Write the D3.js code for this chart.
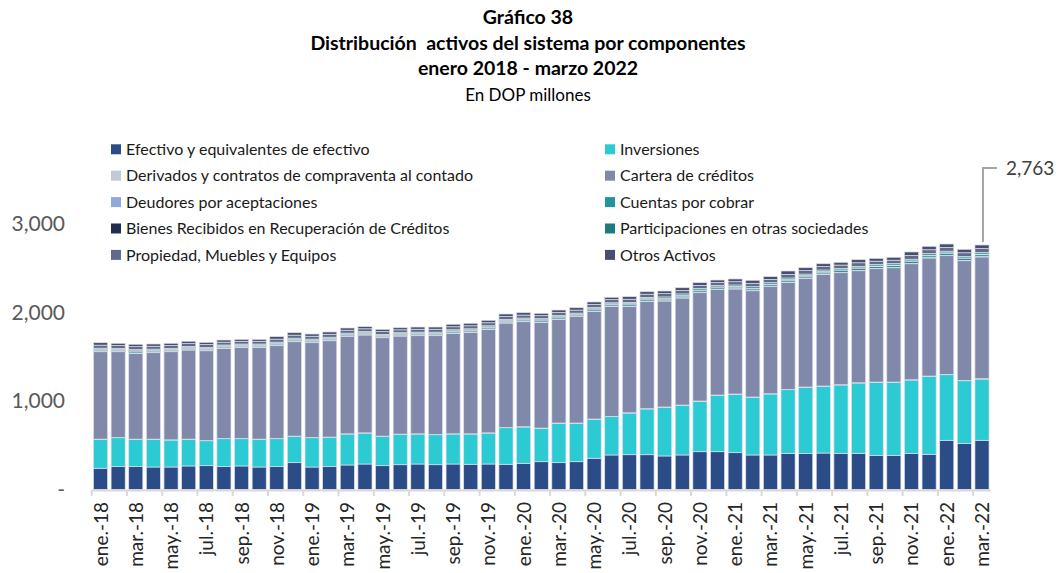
<!DOCTYPE html>
<html>
<head>
<meta charset="utf-8">
<script src="https://cdn.jsdelivr.net/npm/d3@7"></script>
<style>
  html, body { margin: 0; padding: 0; background: #ffffff; }
  svg { display: block; }
  text { font-family: Lato, "Open Sans", sans-serif; white-space: pre; }
</style>
</head>
<body>
<svg id="chart" width="1057" height="573"></svg>
<script>
// ---------- DATA ----------
const months = [
  "ene.-18","feb.-18","mar.-18","abr.-18","may.-18","jun.-18","jul.-18","ago.-18","sep.-18","oct.-18","nov.-18","dic.-18",
  "ene.-19","feb.-19","mar.-19","abr.-19","may.-19","jun.-19","jul.-19","ago.-19","sep.-19","oct.-19","nov.-19","dic.-19",
  "ene.-20","feb.-20","mar.-20","abr.-20","may.-20","jun.-20","jul.-20","ago.-20","sep.-20","oct.-20","nov.-20","dic.-20",
  "ene.-21","feb.-21","mar.-21","abr.-21","may.-21","jun.-21","jul.-21","ago.-21","sep.-21","oct.-21","nov.-21","dic.-21",
  "ene.-22","feb.-22","mar.-22"
];

const efectivo = [240,258,258,254,254,266,269,258,266,254,258,303,254,258,277,288,269,280,288,280,288,285,288,285,
  296,314,303,314,353,390,393,393,379,390,427,427,416,390,390,409,405,412,409,409,386,386,405,398,556,518,556];
const inversiones = [327,327,309,313,305,301,282,316,308,313,316,298,331,332,350,350,332,344,339,339,339,342,350,413,
  410,377,445,434,440,433,471,517,550,561,570,637,660,652,689,719,750,754,772,794,825,825,832,881,741,711,692];
const derivados = [2,2,2,2,2,2,2,2,2,2,2,2,2,2,2,2,2,2,2,2,2,2,2,2,3,3,3,3,3,3,3,3,3,3,3,3,3,3,3,3,3,3,3,3,3,3,3,3,4,4,4];
const cartera = [988,970,970,977,996,1007,1015,1019,1031,1038,1049,1067,1072,1089,1098,1106,1112,1108,1109,1117,1136,1147,1170,1181,
  1187,1195,1172,1202,1218,1244,1203,1214,1198,1210,1224,1195,1187,1201,1210,1210,1228,1263,1266,1266,1281,1292,1311,1334,1341,1352,1376];
const deudores = [4,4,4,4,4,4,4,4,4,4,4,4,4,4,4,4,4,4,4,4,4,4,4,4,4,4,4,3,3,3,3,3,3,3,3,3,3,3,3,3,4,4,4,4,4,4,4,4,4,4,4];
const cuentas = [14,13,15,14,13,14,13,13,12,12,14,14,14,14,14,13,13,13,14,14,14,14,14,14,15,15,16,15,16,15,17,17,18,18,18,16,18,18,18,20,19,19,19,20,19,19,21,21,21,20,21];
const bienes = [10,10,10,10,10,10,10,10,10,10,10,10,10,10,10,10,10,10,10,10,10,10,10,10,10,10,10,10,10,10,10,10,10,10,10,9,9,9,9,9,9,9,9,9,8,8,8,8,8,8,8];
const participaciones = [12,11,12,12,11,12,11,11,11,11,12,12,12,12,12,11,11,11,12,12,12,12,12,12,12,12,13,12,13,12,14,14,15,15,15,14,15,16,15,17,16,16,16,17,16,16,18,18,18,17,18];
const propiedad = [34,32,34,33,32,33,32,32,31,31,34,34,33,33,33,32,32,32,33,33,34,34,34,34,34,34,35,34,35,35,36,36,37,38,37,35,37,38,37,41,39,39,38,40,38,38,42,42,42,41,43];
const otros = [28,25,27,25,25,26,25,24,22,22,28,28,25,26,25,24,25,24,25,25,28,28,28,28,27,27,27,27,28,27,29,28,30,32,30,28,31,34,31,38,33,32,31,35,32,33,40,39,39,39,41];

const seriesNames = [
  "Efectivo y equivalentes de efectivo","Inversiones",
  "Derivados y contratos de compraventa al contado","Cartera de créditos",
  "Deudores por aceptaciones","Cuentas por cobrar",
  "Bienes Recibidos en Recuperación de Créditos","Participaciones en otras sociedades",
  "Propiedad, Muebles y Equipos","Otros Activos"
];
const seriesValues = [efectivo, inversiones, derivados, cartera, deudores, cuentas, bienes, participaciones, propiedad, otros];
const colors = ["#2b4c87","#2ccbd4","#c3c7d6","#8189aa","#8fa9d8","#21959b","#1f2d4f","#1e7a7c","#606a8e","#484f6e"];

const yTicks = [0, 1000, 2000, 3000];
const yTickLabels = ["-", "1,000", "2,000", "3,000"];
const titleLines = ["Gráfico 38", "Distribución  activos del sistema por componentes", "enero 2018 - marzo 2022"];
const subtitle = "En DOP millones";
const annotationLabel = "2,763";

// ---------- BUILD ----------
const table = months.map((m, i) => {
  const row = { month: m };
  seriesNames.forEach((s, k) => row[s] = seriesValues[k][i]);
  return row;
});

const svg = d3.select("#chart");

const x = d3.scaleBand().domain(months).range([91.7, 990.8]).paddingInner(0.2).paddingOuter(0.1);
const y = d3.scaleLinear().domain([0, 3000]).range([489.5, 224]);

const stacked = d3.stack().keys(seriesNames)(table);

// bars
const layers = svg.append("g").selectAll("g").data(stacked).join("g")
  .attr("fill", (d, i) => colors[i]);
layers.selectAll("rect").data(d => d).join("rect")
  .attr("x", d => x(d.data.month))
  .attr("width", x.bandwidth())
  .attr("y", d => y(d[1]))
  .attr("height", d => Math.max(0, y(d[0]) - y(d[1])))
  .attr("stroke", "#dde0e8")
  .attr("stroke-width", 0.7);

// x axis line
const step = x.step();
const gap = (step - x.bandwidth()) / 2;
svg.append("line")
  .attr("x1", x.range()[0]).attr("x2", x.range()[1])
  .attr("y1", 490.5).attr("y2", 490.5)
  .attr("stroke", "#d9d9d9").attr("stroke-width", 2);

// ticks at boundaries every two months
const tickMonths = months.filter((m, i) => i % 2 === 0);
svg.append("g").selectAll("line").data(tickMonths).join("line")
  .attr("x1", m => x(m) - gap).attr("x2", m => x(m) - gap)
  .attr("y1", 490).attr("y2", 496)
  .attr("stroke", "#d9d9d9").attr("stroke-width", 2);

// x labels
svg.append("g").selectAll("text").data(tickMonths).join("text")
  .attr("transform", m => `translate(${x(m) + x.bandwidth() / 2 + 7},502) rotate(-90)`)
  .attr("text-anchor", "end")
  .attr("font-size", 19)
  .attr("fill", "#262626")
  .text(m => m);

// y labels
svg.append("g").selectAll("text").data(yTicks).join("text")
  .attr("x", 65)
  .attr("y", v => y(v))
  .attr("dy", "0.35em")
  .attr("text-anchor", "end")
  .attr("font-size", 21)
  .attr("fill", "#595959")
  .text((v, i) => yTickLabels[i]);

// title
const tg = svg.append("g");
titleLines.forEach((t, i) => {
  tg.append("text").attr("x", 528).attr("y", 24 + i * 25.5)
    .attr("text-anchor", "middle").attr("font-size", 19.5).attr("font-weight", "bold")
    .attr("fill", "#000").text(t);
});
tg.append("text").attr("x", 528).attr("y", 101)
  .attr("text-anchor", "middle").attr("font-size", 17).attr("fill", "#000").text(subtitle);

// legend
const legendPos = seriesNames.map((s, i) => ({
  name: s, color: colors[i],
  x: i % 2 === 0 ? 111 : 605,
  y: 149.3 + Math.floor(i / 2) * 26.4
}));
const lg = svg.append("g").selectAll("g").data(legendPos).join("g")
  .attr("transform", d => `translate(${d.x},${d.y})`);
lg.append("rect").attr("x", 0).attr("y", -5).attr("width", 10).attr("height", 10).attr("fill", d => d.color);
lg.append("text").attr("x", 15).attr("y", 0).attr("dy", "0.35em")
  .attr("font-size", 16).attr("fill", "#1a1a1a").text(d => d.name);

// annotation for last bar
const lastMonth = months[months.length - 1];
const lastTotal = stacked[stacked.length - 1][months.length - 1][1];
const ax = x(lastMonth) + x.bandwidth() / 2 + 1;
svg.append("path")
  .attr("d", `M${ax},${y(lastTotal) - 3} V${168} H${997}`)
  .attr("fill", "none").attr("stroke", "#a6a6a6").attr("stroke-width", 2);
svg.append("text").attr("x", 1006).attr("y", 168).attr("dy", "0.35em")
  .attr("font-size", 19).attr("fill", "#404040").text(annotationLabel);
</script>
</body>
</html>
